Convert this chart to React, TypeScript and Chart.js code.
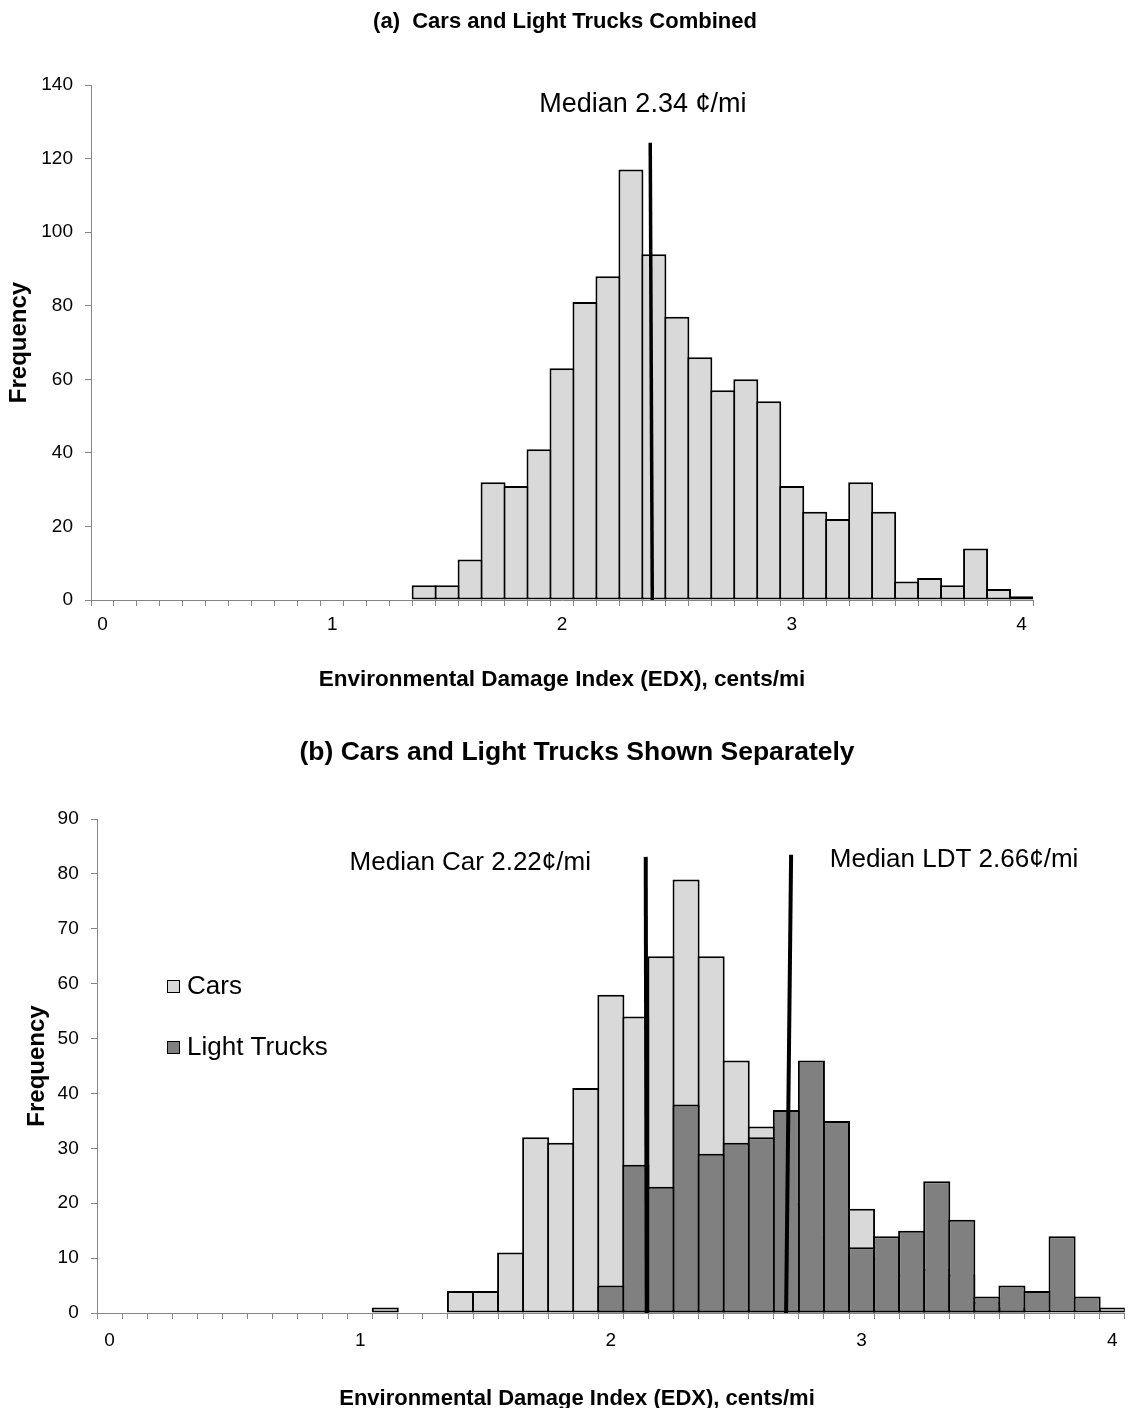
import React, { useEffect, useRef } from "react";
import { Chart, registerables } from "chart.js";

Chart.register(...registerables);

const FONT = "'Liberation Sans', Arial, Helvetica, sans-serif";
Chart.defaults.font.family = FONT;
Chart.defaults.color = "#000";

// ---------- data ----------
// lower edge of each 0.1-wide EDX bin (cents/mi)
const edxBins = [
  0.0, 0.1, 0.2, 0.3, 0.4, 0.5, 0.6, 0.7, 0.8, 0.9,
  1.0, 1.1, 1.2, 1.3, 1.4, 1.5, 1.6, 1.7, 1.8, 1.9,
  2.0, 2.1, 2.2, 2.3, 2.4, 2.5, 2.6, 2.7, 2.8, 2.9,
  3.0, 3.1, 3.2, 3.3, 3.4, 3.5, 3.6, 3.7, 3.8, 3.9,
  4.0,
];
const labeledBins = [0, 1, 2, 3, 4];

const combinedCounts = [
  0, 0, 0, 0, 0, 0, 0, 0, 0, 0,
  0, 0, 0, 0, 4, 4, 11, 32, 31, 41,
  63, 81, 88, 117, 94, 77, 66, 57, 60, 54,
  31, 24, 22, 32, 24, 5, 6, 4, 14, 3,
  1,
];
const carCounts = [
  0, 0, 0, 0, 0, 0, 0, 0, 0, 0,
  0, 1, 0, 0, 4, 4, 11, 32, 31, 41,
  58, 54, 65, 79, 65, 46, 34, 20, 14, 19,
  19, 10, 7, 8, 7, 2, 1, 0, 0, 0,
  1,
];
const truckCounts = [
  0, 0, 0, 0, 0, 0, 0, 0, 0, 0,
  0, 0, 0, 0, 0, 0, 0, 0, 0, 0,
  5, 27, 23, 38, 29, 31, 32, 37, 46, 35,
  12, 14, 15, 24, 17, 3, 5, 4, 14, 3,
  0,
];

// median marker lines (x in EDX cents/mi, y in frequency): [bottom, top]
const medianAllLine = [{ x: 2.393, y: 0 }, { x: 2.384, y: 124.3 }];
const medianCarLine = [{ x: 2.143, y: 0 }, { x: 2.139, y: 83.1 }];
const medianTruckLine = [{ x: 2.699, y: 0 }, { x: 2.719, y: 83.5 }];

const medianLabelsA = [{ text: "Median 2.34 \u00a2/mi", x: 2.352, y: 134.8 }];
const medianLabelsB = [
  { text: "Median Car 2.22\u00a2/mi", x: 1.439, y: 82.1 },
  { text: "Median LDT 2.66\u00a2/mi", x: 3.369, y: 82.5 },
];

// ---------- styles ----------
const LIGHT = "#d9d9d9";
const DARK = "#808080";
const AXIS = "#868686";

type Pt = { x: number; y: number };
type DataText = { text: string; x: number; y: number };
type PixelText = { text: string; x: number; y: number; font: string };
type LegendCfg = {
  items: { label: string; color: string }[];
  dx: number;
  dy: number;
  box: number;
  gap: number;
  row: number;
  font: string;
};

// EDX value -> fractional category index on the bin axis
const edxToIndex = (v: number) => (v - edxBins[0]) / (edxBins[1] - edxBins[0]);

function makeOverlay(cfg: {
  lines?: { points: Pt[]; width: number }[];
  dataTexts?: DataText[];
  dataFont?: string;
  pixelTexts?: PixelText[];
  legend?: LegendCfg;
}) {
  return {
    id: "overlay",
    afterDatasetsDraw(chart: any) {
      const ctx = chart.ctx;
      const xs = chart.scales.x;
      const ys = chart.scales.y;
      const px = (v: number) => xs.getPixelForValue(edxToIndex(v));
      const py = (v: number) => ys.getPixelForValue(v);
      ctx.save();
      (cfg.lines || []).forEach((ln) => {
        ctx.beginPath();
        ctx.strokeStyle = "#000";
        ctx.lineWidth = ln.width;
        ctx.lineCap = "butt";
        ln.points.forEach((p, i) => {
          if (i === 0) ctx.moveTo(px(p.x), py(p.y));
          else ctx.lineTo(px(p.x), py(p.y));
        });
        ctx.stroke();
      });
      ctx.fillStyle = "#000";
      ctx.textBaseline = "middle";
      (cfg.dataTexts || []).forEach((t) => {
        ctx.font = cfg.dataFont;
        ctx.textAlign = "center";
        ctx.fillText(t.text, px(t.x), py(t.y));
      });
      (cfg.pixelTexts || []).forEach((t) => {
        ctx.font = t.font;
        ctx.textAlign = "center";
        ctx.fillText(t.text, t.x, t.y);
      });
      const L = cfg.legend;
      if (L) {
        const area = chart.chartArea;
        const bx = area.left + L.dx;
        let by = area.top + L.dy;
        L.items.forEach((it) => {
          ctx.fillStyle = it.color;
          ctx.fillRect(bx, by, L.box, L.box);
          ctx.strokeStyle = "#000";
          ctx.lineWidth = 1;
          ctx.strokeRect(bx + 0.5, by + 0.5, L.box - 1, L.box - 1);
          ctx.fillStyle = "#000";
          ctx.font = L.font;
          ctx.textAlign = "left";
          ctx.textBaseline = "middle";
          ctx.fillText(it.label, bx + L.box + L.gap, by + L.box / 2);
          by += L.row;
        });
      }
      ctx.restore();
    },
  };
}

const tickFont = { family: FONT, size: 19 };
const xTickCallback = (_v: any, i: number) =>
  labeledBins.includes(edxBins[i]) ? String(edxBins[i]) : "";

function useChart(config: () => any) {
  const ref = useRef<HTMLCanvasElement | null>(null);
  useEffect(() => {
    if (!ref.current) return;
    const chart = new Chart(ref.current, config());
    return () => chart.destroy();
  }, []);
  return ref;
}

const barStyle = {
  borderColor: "#000",
  borderWidth: 2,
  borderSkipped: false,
  inflateAmount: 0,
  grouped: false,
  categoryPercentage: 1,
};

function ChartA() {
  const ref = useChart(() => ({
    type: "bar",
    data: {
      labels: edxBins.map(String),
      datasets: [
        {
          ...barStyle,
          label: "Cars and Light Trucks",
          data: combinedCounts,
          backgroundColor: LIGHT,
          barPercentage: 1.087,
        },
      ],
    },
    options: {
      animation: false,
      responsive: true,
      maintainAspectRatio: false,
      devicePixelRatio: 1,
      events: [],
      layout: { padding: { left: 2, right: 0, top: 0, bottom: 0 } },
      plugins: {
        legend: { display: false },
        tooltip: { enabled: false },
        title: {
          display: true,
          text: "(a)  Cars and Light Trucks Combined",
          color: "#000",
          font: { family: FONT, size: 22, weight: "bold" },
          padding: { top: 8.8, bottom: 49.8 },
        },
      },
      scales: {
        x: {
          type: "category",
          offset: true,
          grid: { offset: true, drawOnChartArea: false, tickLength: 6, color: AXIS },
          border: { display: true, color: AXIS, width: 1 },
          ticks: {
            autoSkip: false,
            maxRotation: 0,
            minRotation: 0,
            padding: 7.5,
            font: tickFont,
            color: "#000",
            callback: xTickCallback,
          },
          title: {
            display: true,
            text: "Environmental Damage Index (EDX), cents/mi",
            color: "#000",
            font: { family: FONT, size: 22.5, weight: "bold" },
            padding: { top: 0, bottom: 18.5 },
          },
          afterFit: (s: any) => {
            s.height = 112;
          },
        },
        y: {
          type: "linear",
          position: "left",
          min: 0,
          max: 140,
          ticks: { stepSize: 20, font: tickFont, color: "#000", padding: 12 },
          grid: { drawOnChartArea: false, tickLength: 6, color: AXIS },
          border: { display: true, color: AXIS, width: 1 },
          title: {
            display: true,
            text: "Frequency",
            color: "#000",
            font: { family: FONT, size: 24, weight: "bold" },
            padding: { top: 2.6, bottom: 0 },
          },
          afterFit: (s: any) => {
            s.width = 89;
          },
        },
        yR: {
          type: "linear",
          position: "right",
          display: true,
          ticks: { display: false },
          grid: { display: false },
          border: { display: false },
          afterFit: (s: any) => {
            s.width = 95;
          },
        },
      },
    },
    plugins: [
      makeOverlay({
        lines: [{ points: medianAllLine, width: 3.5 }],
        dataTexts: medianLabelsA,
        dataFont: `27px ${FONT}`,
      }),
    ],
  }));
  return (
    <div style={{ position: "absolute", left: 0, top: 0, width: 1128, height: 712 }}>
      <canvas ref={ref} />
    </div>
  );
}

function ChartB() {
  const ref = useChart(() => ({
    type: "bar",
    data: {
      labels: edxBins.map(String),
      datasets: [
        {
          ...barStyle,
          label: "Light Trucks",
          data: truckCounts,
          backgroundColor: DARK,
          barPercentage: 1.0795,
          order: 0,
        },
        {
          ...barStyle,
          label: "Cars",
          data: carCounts,
          backgroundColor: LIGHT,
          barPercentage: 1.0795,
          order: 1,
        },
      ],
    },
    options: {
      animation: false,
      responsive: true,
      maintainAspectRatio: false,
      devicePixelRatio: 1,
      events: [],
      layout: { padding: { left: 26, right: 0, top: 0, bottom: 0 } },
      plugins: {
        legend: { display: false },
        tooltip: { enabled: false },
        title: {
          display: true,
          text: "(b) Cars and Light Trucks Shown Separately",
          color: "#000",
          font: { family: FONT, size: 26.5, weight: "bold" },
          padding: { top: 25.1, bottom: 50.1 },
        },
      },
      scales: {
        x: {
          type: "category",
          offset: true,
          grid: { offset: true, drawOnChartArea: false, tickLength: 6, color: AXIS },
          border: { display: true, color: AXIS, width: 1 },
          ticks: {
            autoSkip: false,
            maxRotation: 0,
            minRotation: 0,
            padding: 10.5,
            font: tickFont,
            color: "#000",
            callback: xTickCallback,
          },
          afterFit: (s: any) => {
            s.height = 95;
          },
        },
        y: {
          type: "linear",
          position: "left",
          min: 0,
          max: 90,
          ticks: { stepSize: 10, font: tickFont, color: "#000", padding: 12.3 },
          grid: { drawOnChartArea: false, tickLength: 6, color: AXIS },
          border: { display: true, color: AXIS, width: 1 },
          title: {
            display: true,
            text: "Frequency",
            color: "#000",
            font: { family: FONT, size: 24, weight: "bold" },
            padding: { top: -3.4, bottom: 0 },
          },
          afterFit: (s: any) => {
            s.width = 71;
          },
        },
      },
    },
    plugins: [
      makeOverlay({
        lines: [
          { points: medianCarLine, width: 4 },
          { points: medianTruckLine, width: 4 },
        ],
        dataTexts: medianLabelsB,
        dataFont: `26px ${FONT}`,
        pixelTexts: [
          {
            text: "Environmental Damage Index (EDX), cents/mi",
            x: 577,
            y: 687,
            font: `bold 22px ${FONT}`,
          },
        ],
        legend: {
          items: [
            { label: "Cars", color: LIGHT },
            { label: "Light Trucks", color: DARK },
          ],
          dx: 70,
          dy: 161,
          box: 13,
          gap: 7,
          row: 61,
          font: `26px ${FONT}`,
        },
      }),
    ],
  }));
  return (
    <div style={{ position: "absolute", left: 0, top: 712, width: 1128, height: 696 }}>
      <canvas ref={ref} />
    </div>
  );
}

export default function App() {
  return (
    <div style={{ position: "absolute", left: 0, top: 0, width: 1128, height: 1408, background: "#fff" }}>
      <ChartA />
      <ChartB />
    </div>
  );
}
